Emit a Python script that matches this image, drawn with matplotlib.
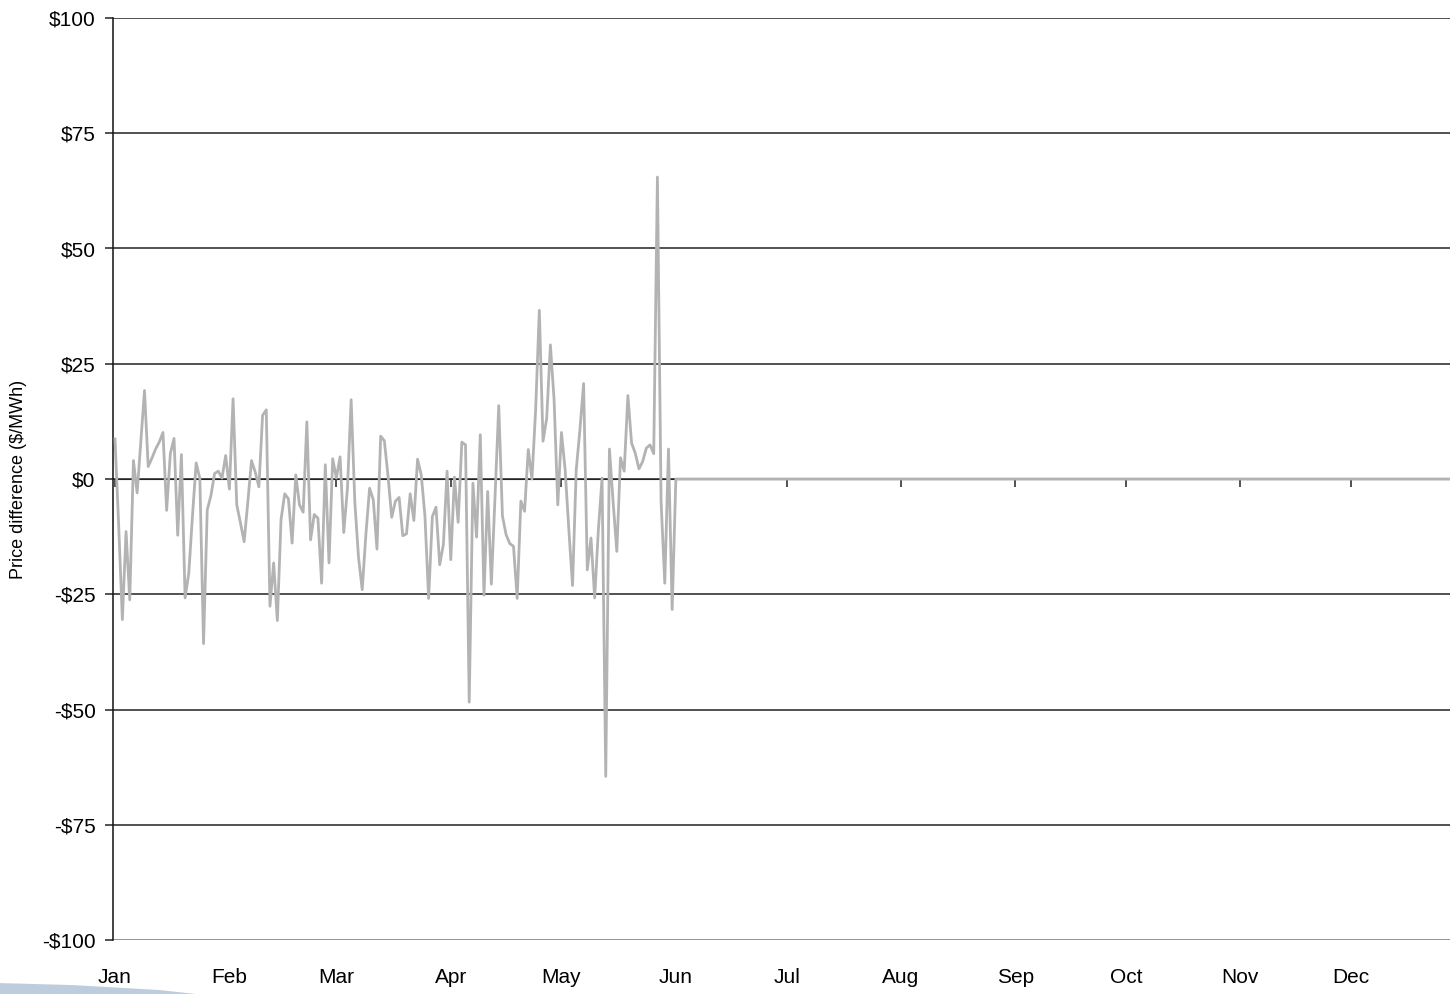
import matplotlib
matplotlib.use('Agg')
import matplotlib.pyplot as plt
import matplotlib.patches as mpatches
import numpy as np
import pandas as pd

# daily price difference ($/MWh), Jan 1 .. May 31, then zero for the rest of the year
valores_jan_mai = [
    8.7, -10, -30.5, -11.4, -26.2, 4.0, -3.0, 8, 19.2, 2.7,
    4.5, 6.5, 8.0, 10.1, -6.8, 5.5, 8.8, -12.2, 5.3, -25.8,
    -20.4, -8, 3.5, 0.1, -35.7, -6.7, -3.6, 1.2, 1.7, 0.2,
    5.1, -2.2, 17.4, -5.6, -9.5, -13.6, -5, 4.0, 1.5, -1.7,
    13.8, 15.0, -27.6, -18.2, -30.7, -8.8, -3.2, -4.3, -13.9, 0.9,
    -5.6, -7.2, 12.4, -13.2, -7.7, -8.5, -22.6, 3.1, -18.2, 4.4,
    0.2, 4.8, -11.6, -2, 17.2, -5, -17, -24.0, -12, -2.0,
    -4.5, -15.2, 9.3, 8.3, 0.6, -8.3, -4.8, -4.0, -12.3, -11.9,
    -3.2, -9.0, 4.3, 0.9, -8, -25.9, -8.2, -6.1, -18.6, -14.2,
    1.7, -17.5, 0.4, -9.4, 8.0, 7.4, -48.4, -0.9, -12.6, 9.6,
    -25.2, -2.7, -22.8, -3.8, 15.9, -8.0, -12.1, -14.0, -14.6, -25.9,
    -4.8, -7.0, 6.4, 0.0, 15, 36.6, 8.2, 13.2, 29.1, 17.2,
    -5.6, 10.1, 2.0, -11, -23.1, 2.0, 10.7, 20.7, -19.7, -12.8,
    -25.8, -11, 0.2, -64.5, 6.5, -5, -15.7, 4.6, 1.7, 18.1,
    7.8, 5.6, 2.2, 3.8, 6.7, 7.4, 5.5, 65.5, -5, -22.6,
    6.5, -28.3,
]

datas = pd.date_range('2008-01-01', '2008-12-31', freq='D')
valores = np.zeros(len(datas))
valores[:len(valores_jan_mai)] = valores_jan_mai
dias = np.arange(len(datas))

meses = pd.date_range('2008-01-01', '2008-12-31', freq='MS')
meses_pos = meses.dayofyear - 1
meses_nomes = ['Jan', 'Feb', 'Mar', 'Apr', 'May', 'Jun',
               'Jul', 'Aug', 'Sep', 'Oct', 'Nov', 'Dec']

y_ticks = [-100, -75, -50, -25, 0, 25, 50, 75, 100]
y_nomes = ['-\\$100', '-\\$75', '-\\$50', '-\\$25', '\\$0', '\\$25', '\\$50', '\\$75', '\\$100']

# =============================== #

plt.rcParams['font.family'] = ['Liberation Sans Narrow', 'Liberation Sans', 'DejaVu Sans']

fig = plt.figure(figsize=(14.5, 9.94), dpi=100)
ax = fig.add_axes([0.0779, 0.0543, 0.9221, 0.9276])

for v in y_ticks:
    cor = '#777777' if v == -100 else '#222222'
    ax.axhline(v, color=cor, lw=1.1, zorder=1)

ax.plot(dias, valores, color='#b3b3b3', lw=2.0, zorder=3)

ax.set_xlim(-0.55, 361.8)
ax.set_ylim(-100, 100)

# eixo x cruzando em zero, com marcas nos meses
ax.spines['bottom'].set_position(('data', 0))
ax.spines['bottom'].set_color('#222222')
ax.spines['top'].set_visible(False)
ax.spines['right'].set_visible(False)
ax.spines['left'].set_color('#111111')
ax.spines['left'].set_linewidth(1.1)
ax.set_xticks(meses_pos)
ax.set_xticklabels([])
ax.tick_params(axis='x', direction='out', length=5.5, width=1.1, color='#222222')

ax.set_yticks(y_ticks)
ax.set_yticklabels(y_nomes, fontsize=15)
ax.tick_params(axis='y', direction='out', length=5.5, width=1.1, pad=7, color='#222222')

# rotulos dos meses embaixo
sec = ax.secondary_xaxis(0)
sec.set_xticks(meses_pos)
sec.set_xticklabels(meses_nomes, fontsize=15)
sec.tick_params(length=0, pad=20)
sec.spines['bottom'].set_visible(False)

ax.set_ylabel('Price difference (\\$/MWh)', fontsize=13)
ax.yaxis.set_label_coords(-0.064, 0.5)

# faixa decorativa azul no canto inferior esquerdo
faixa = mpatches.Polygon([(0.0, 0.0), (0.0, 0.011), (0.05, 0.009), (0.11, 0.004), (0.135, 0.0)],
                         closed=True, transform=fig.transFigure, facecolor='#a9bdd3',
                         edgecolor='none', alpha=0.75)
fig.patches.append(faixa)

plt.savefig('out.png', dpi=100)
